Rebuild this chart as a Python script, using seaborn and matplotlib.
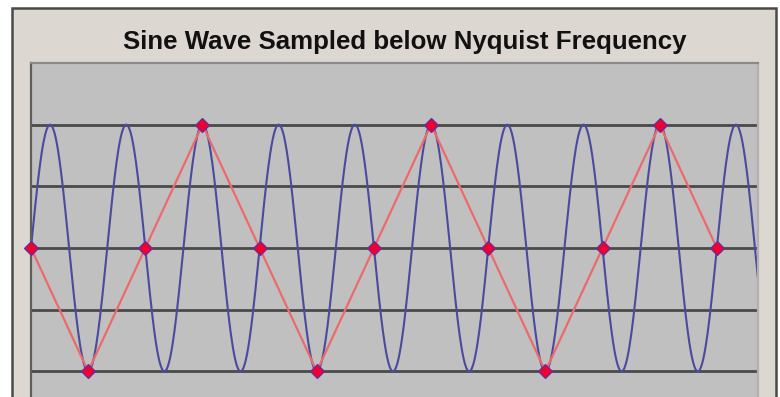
import numpy as np
import pandas as pd
import matplotlib
matplotlib.use("Agg")
import matplotlib.pyplot as plt
from matplotlib.patches import Rectangle
import seaborn as sns

# Sampled points (one sample per unit of time)
sample_index = [0, 1, 2, 3, 4, 5, 6, 7, 8, 9, 10, 11, 12]
sample_value = [0, -1, 0, 1, 0, -1, 0, 1, 0, -1, 0, 1, 0]

# Underlying signal: 0.75 cycles per sample (above half the sampling rate)
signal_cycles_per_sample = 0.75
signal_span = (0.0, 12.8)

grid_levels = [-1.0, -0.5, 0.0, 0.5, 1.0]
title_text = "Sine Wave Sampled below Nyquist Frequency"

t = np.linspace(signal_span[0], signal_span[1], 1200)
wave = pd.DataFrame({"t": t, "y": np.sin(2 * np.pi * signal_cycles_per_sample * t)})
samples = pd.DataFrame({"t": sample_index, "y": sample_value})

sns.set_theme(style="white")
plt.rcParams["font.family"] = ["Liberation Sans", "DejaVu Sans"]

W, H = 780, 397
fig = plt.figure(figsize=(W / 100, H / 100), dpi=100, facecolor="white")

# Chart area frame
frame = Rectangle((12 / W, -0.2), (776 - 12) / W, (H - 8) / H + 0.2,
                  transform=fig.transFigure, facecolor="#dcd7d0",
                  edgecolor="#4a4a4a", linewidth=1.8, zorder=-5)
fig.patches.append(frame)

# Plot area: y spans -1.5..1.5, bottom part runs below the image edge
left, right = 31 / W, 758 / W
top_px, bottom_px = 63, 433
ax = fig.add_axes([left, (H - bottom_px) / H, right - left, (bottom_px - top_px) / H])
ax.set_zorder(2)
ax.set_facecolor("#c0c0c0")

for lvl in grid_levels:
    ax.axhline(lvl, color="#4a4a4a", linewidth=2.0, zorder=1)

sns.lineplot(data=wave, x="t", y="y", ax=ax, color="#4a4a9e", linewidth=1.5,
             zorder=2, estimator=None, sort=False)
sns.lineplot(data=samples, x="t", y="y", ax=ax, color="#ee6a6a", linewidth=1.6,
             zorder=3, estimator=None, sort=False)
ax.plot(samples["t"], samples["y"], linestyle="none", marker="D", markersize=7.5,
        markerfacecolor="#f00030", markeredgecolor="#6030a0", markeredgewidth=0.9,
        zorder=4, clip_on=False)

ax.set_xlim(0, 12.72)
ax.set_ylim(-1.5, 1.5)
ax.set_xticks([])
ax.set_yticks([])
ax.set_xlabel("")
ax.set_ylabel("")
for side, sp in ax.spines.items():
    sp.set_visible(True)
    sp.set_linewidth(1.6)
    sp.set_color("#5e5e5e" if side == "left" else ("#8a8a8a" if side == "top" else "#b0b0b0"))

fig.text(405 / W, 1 - 42 / H, title_text, ha="center", va="center",
         fontsize=18.6, fontweight="bold", color="#111111")

fig.savefig("out.png", dpi=100, facecolor="white")
